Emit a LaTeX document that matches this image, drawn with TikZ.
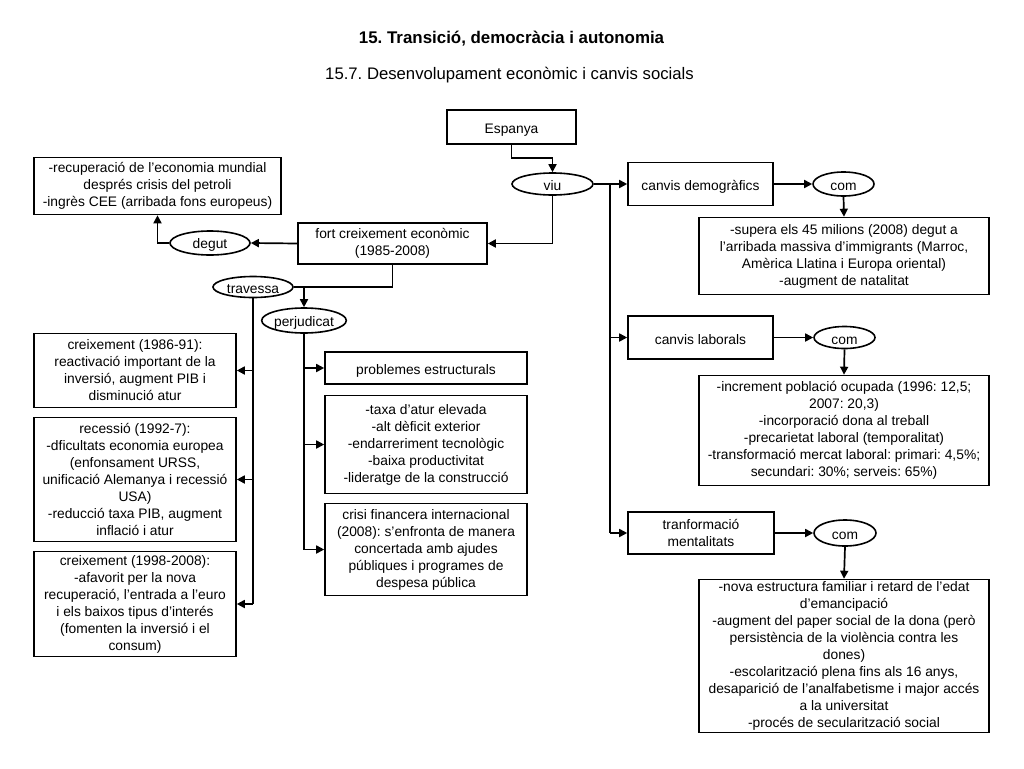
\documentclass[tikz,border=0pt]{standalone}
\usepackage{fontspec}
\setmainfont{Liberation Sans}
\usetikzlibrary{shapes.geometric,arrows.meta}
\begin{document}
\frenchspacing
\begin{tikzpicture}[x=1pt,y=-1pt,
		every node/.style={font=\fontsize{13.8}{17}\selectfont,align=center,inner sep=0pt},
		caixa/.style={draw,line width=1.6pt,rectangle,execute at begin node={\rule{0pt}{15pt}}},
		elipse/.style={draw,line width=1.6pt,ellipse,execute at begin node={\rule{0pt}{14pt}}},
		linia/.style={line width=1.7pt},
		fletxa/.style={line width=1.7pt,-{Triangle[length=8pt,width=8pt]}}]
		\useasboundingbox (0,0) rectangle (1024,768);
		% títols
		\node[font=\bfseries\fontsize{16.9}{19}\selectfont] (titol) at (511.5,39) {15. Transició, democràcia i autonomia};
		\node[font=\fontsize{16.7}{19}\selectfont] (subtitol) at (509.5,75) {15.7. Desenvolupament econòmic i canvis socials};
		% centre
		\node[caixa,minimum width=129,minimum height=34] (esp) at (511.5,127) {Espanya};
		\node[elipse,minimum width=81,minimum height=22] (viu) at (552.5,184) {viu};
		\node[caixa,minimum width=189,minimum height=41] (fort) at (392.5,243.5) {fort creixement econòmic\\(1985-2008)};
		\node[elipse,minimum width=80,minimum height=24] (degut) at (210,243) {degut};
		\node[caixa,minimum width=247,minimum height=57] (recup) at (157.5,186) {-recuperació de l’economia mundial\\després crisis del petroli\\-ingrès CEE (arribada fons europeus)};
		\node[elipse,minimum width=80,minimum height=21] (trav) at (253,287) {travessa};
		\node[elipse,minimum width=82,minimum height=25] (perj) at (304,320.5) {perjudicat};
		% etapes
		\node[caixa,minimum width=202,minimum height=74] (c86) at (135,370.5) {creixement (1986-91):\\reactivació important de la\\inversió, augment PIB i\\disminució atur};
		\node[caixa,minimum width=202,minimum height=124] (rec) at (135,479.5) {recessió (1992-7):\\-dficultats economia europea\\(enfonsament URSS,\\unificació Alemanya i recessió\\USA)\\-reducció taxa PIB, augment\\inflació i atur};
		\node[caixa,minimum width=202,minimum height=105] (c98) at (135,604) {creixement (1998-2008):\\-afavorit per la nova\\recuperació, l’entrada a l’euro\\i els baixos tipus d’interés\\(fomenten la inversió i el\\consum)};
		% problemes
		\node[caixa,minimum width=202,minimum height=32] (prob) at (426,368) {problemes estructurals};
		\node[caixa,minimum width=202,minimum height=98] (taxa) at (426,444.5) {-taxa d’atur elevada\\-alt dèficit exterior\\-endarreriment tecnològic\\-baixa productivitat\\-lideratge de la construcció};
		\node[caixa,minimum width=202,minimum height=92] (crisi) at (426,549.5) {crisi financera internacional\\(2008): s’enfronta de manera\\concertada amb ajudes\\públiques i programes de\\despesa pública};
		% canvis socials
		\node[caixa,minimum width=145,minimum height=43] (dem) at (700.5,184) {canvis demogràfics};
		\node[elipse,minimum width=61,minimum height=24] (com1) at (843.5,184) {com};
		\node[caixa,minimum width=290,minimum height=77] (sup) at (844,256) {-supera els 45 milions (2008) degut a\\l’arribada massiva d’immigrants (Marroc,\\Amèrica Llatina i Europa oriental)\\-augment de natalitat};
		\node[caixa,minimum width=145,minimum height=43] (lab) at (700.5,337.5) {canvis laborals};
		\node[elipse,minimum width=61,minimum height=22] (com2) at (844.5,337.5) {com};
		\node[caixa,minimum width=290,minimum height=110] (inc) at (844,430.5) {-increment població ocupada (1996: 12,5;\\2007: 20,3)\\-incorporació dona al treball\\-precarietat laboral (temporalitat)\\-transformació mercat laboral: primari: 4,5\%;\\secundari: 30\%; serveis: 65\%)};
		\node[caixa,minimum width=146,minimum height=42] (tra) at (701,533) {tranformació\\mentalitats};
		\node[elipse,minimum width=62,minimum height=26] (com3) at (845,533) {com};
		\node[caixa,minimum width=290,minimum height=153] (nova) at (844,656) {-nova estructura familiar i retard de l’edat\\d’emancipació\\-augment del paper social de la dona (però\\persistència de la violència contra les\\dones)\\-escolarització plena fins als 16 anys,\\desaparició de l’analfabetisme i major accés\\a la universitat\\-procés de secularització social};
		\coordinate (j) at (610,184); % bifurcació dreta
		% connexions
		\draw[fletxa] (esp.south) -- ++(0,13) -| (viu.north);
		\draw[fletxa] (viu.south) |- (fort.east);
		\draw[fletxa] (fort.west) -- (degut.east);
		\draw[fletxa] (degut.west) -| (recup.south);
		\draw[linia] (fort.south) |- (trav.east);
		\draw[fletxa] (perj.north |- trav.east) -- (perj.north);
		\draw[linia] (trav.south) -- (trav.south |- c98.east);
		\foreach \n in {c86,rec,c98}
			\draw[fletxa] (trav.south |- \n.east) -- (\n.east);
		\draw[linia] (perj.south) -- (perj.south |- crisi.west);
		\foreach \n in {prob,taxa,crisi}
			\draw[fletxa] (perj.south |- \n.west) -- (\n.west);
		\draw[linia] (viu.east) -- (j) -- (j |- tra.west);
		\foreach \n in {dem,lab,tra}
			\draw[fletxa] (j |- \n.west) -- (\n.west);
		\draw[fletxa] (dem.east) -- (com1.west);
		\draw[fletxa] (com1.south) -- (sup.north);
		\draw[fletxa] (lab.east) -- (com2.west);
		\draw[fletxa] (com2.south) -- (inc.north);
		\draw[fletxa] (tra.east) -- (com3.west);
		\draw[fletxa] (com3.south) -- (nova.north);
\end{tikzpicture}
\end{document}
